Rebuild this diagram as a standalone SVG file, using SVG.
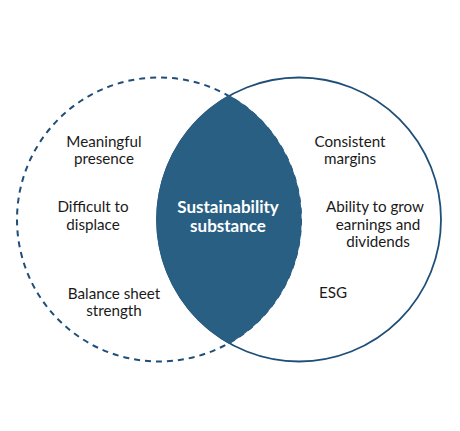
<svg xmlns="http://www.w3.org/2000/svg" width="460" height="431" viewBox="0 0 460 431">
<style>
.lbl{font-family:Lato,"Noto Sans",sans-serif;font-size:15.2px;fill:#1a1a1a;text-anchor:middle}
.ctr{font-family:Lato,"Noto Sans",sans-serif;font-size:17px;font-weight:bold;fill:#ffffff;text-anchor:middle}
</style>
<rect width="460" height="431" fill="#ffffff"/>
<g id="left-circle">
<circle cx="159" cy="219.5" r="142" fill="none" stroke="#1f4e78" stroke-width="2" stroke-dasharray="6 5"/>
<text class="lbl" x="104" y="147">Meaningful</text>
<text class="lbl" x="104" y="164">presence</text>
<text class="lbl" x="93" y="212">Difficult to</text>
<text class="lbl" x="93" y="230">displace</text>
<text class="lbl" x="114" y="299">Balance sheet</text>
<text class="lbl" x="114" y="316">strength</text>
</g>
<g id="right-circle">
<circle cx="299" cy="219.5" r="142" fill="none" stroke="#1f4e78" stroke-width="1.8"/>
<text class="lbl" x="350" y="147">Consistent</text>
<text class="lbl" x="350" y="164">margins</text>
<text class="lbl" x="375" y="212">Ability to grow</text>
<text class="lbl" x="378" y="230">earnings and</text>
<text class="lbl" x="378" y="247">dividends</text>
<text class="lbl" x="333" y="298">ESG</text>
</g>
<g id="intersection">
<path d="M229 96 A142 142 0 0 1 229 343 A142 142 0 0 1 229 96 Z" fill="#2a5f84" stroke="#2a5f84" stroke-width="1.5"/>
<text class="ctr" x="228" y="213">Sustainability</text>
<text class="ctr" x="228" y="232">substance</text>
</g>
<g id="connectors"></g>
</svg>
